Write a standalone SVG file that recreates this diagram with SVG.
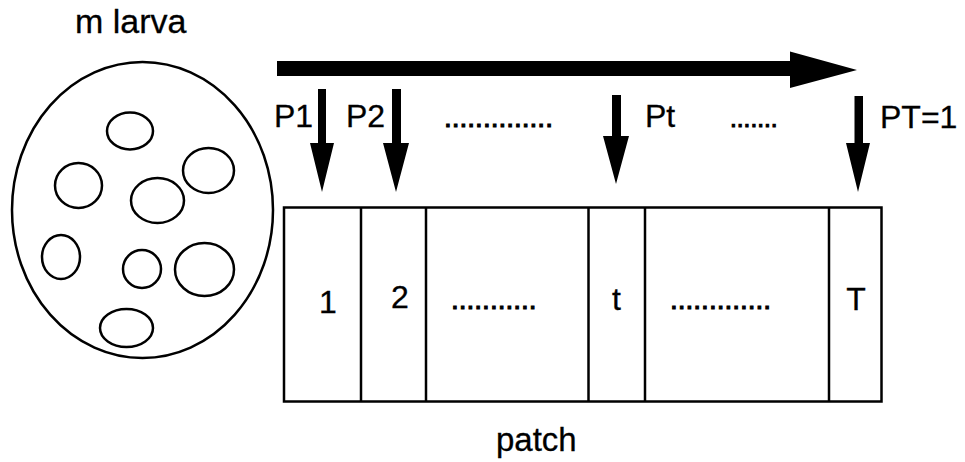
<svg xmlns="http://www.w3.org/2000/svg" width="965" height="462" viewBox="0 0 965 462">
<style>
.ln{fill:none;stroke:#000;stroke-width:2.5}
.cell{fill:#fff;stroke:#000;stroke-width:2.5}
.ar{fill:#000;stroke:none}
text{font-family:"Liberation Sans",Arial,sans-serif;fill:#000;stroke:#000;stroke-width:0.3}
.lb{font-size:32px}
.dt{font-size:28px;stroke-width:1.1}
</style>
<rect width="965" height="462" fill="#fff"/>
<g id="larva">
<text x="75" y="33" style="font-size:34px">m larva</text>
<ellipse class="ln" cx="142.5" cy="210" rx="130.5" ry="148"/>
<ellipse class="ln" cx="130" cy="131" rx="23" ry="18.5"/>
<ellipse class="ln" cx="208.5" cy="170.5" rx="25.5" ry="22.5"/>
<ellipse class="ln" cx="78.5" cy="185.5" rx="23.5" ry="22.5"/>
<ellipse class="ln" cx="157.5" cy="200.5" rx="26.5" ry="22.5"/>
<ellipse class="ln" cx="61" cy="257" rx="19" ry="22"/>
<ellipse class="ln" cx="142" cy="269" rx="19" ry="19"/>
<ellipse class="ln" cx="204.5" cy="269.5" rx="29.5" ry="26.5"/>
<ellipse class="ln" cx="126.5" cy="328" rx="26.5" ry="19"/>
</g>
<g id="patch">
<rect class="cell" x="284" y="207.5" width="597.5" height="194"/>
<line class="ln" x1="361" y1="207.5" x2="361" y2="401.5"/>
<line class="ln" x1="426" y1="207.5" x2="426" y2="401.5"/>
<line class="ln" x1="588.5" y1="207.5" x2="588.5" y2="401.5"/>
<line class="ln" x1="645" y1="207.5" x2="645" y2="401.5"/>
<line class="ln" x1="829" y1="207.5" x2="829" y2="401.5"/>
<text class="lb" x="328" y="313" text-anchor="middle">1</text>
<text class="lb" x="400" y="308" text-anchor="middle">2</text>
<text class="dt" x="451" y="309">...........</text>
<text class="lb" x="616.5" y="310" text-anchor="middle">t</text>
<text class="dt" x="670" y="309">.............</text>
<text class="lb" x="856" y="310" text-anchor="middle">T</text>
<text x="496" y="451" style="font-size:33px">patch</text>
</g>
<g id="labels">
<text class="lb" x="274" y="127">P1</text>
<text class="lb" x="346" y="127">P2</text>
<text class="dt" x="444" y="127">..............</text>
<text class="lb" x="645" y="127">Pt</text>
<text class="dt" x="730" y="127" style="font-size:24.5px">.......</text>
<text class="lb" x="880" y="128">PT=1</text>
</g>
<g id="connectors">
<polygon class="ar" points="277,61 790,61 790,51.5 857,70 790,88 790,76 277,76"/>
<polygon class="ar" points="318,89 326,89 326,143 334,143 322,192 310,143 318,143"/>
<polygon class="ar" points="392,89 401,89 401,143 409,143 396,192 383,143 392,143"/>
<polygon class="ar" points="612,95 621,95 621,136 629,136 616,184 603,136 612,136"/>
<polygon class="ar" points="854.5,96 863,96 863,143 870,143 858,192 846,143 854.5,143"/>
</g>
</svg>
